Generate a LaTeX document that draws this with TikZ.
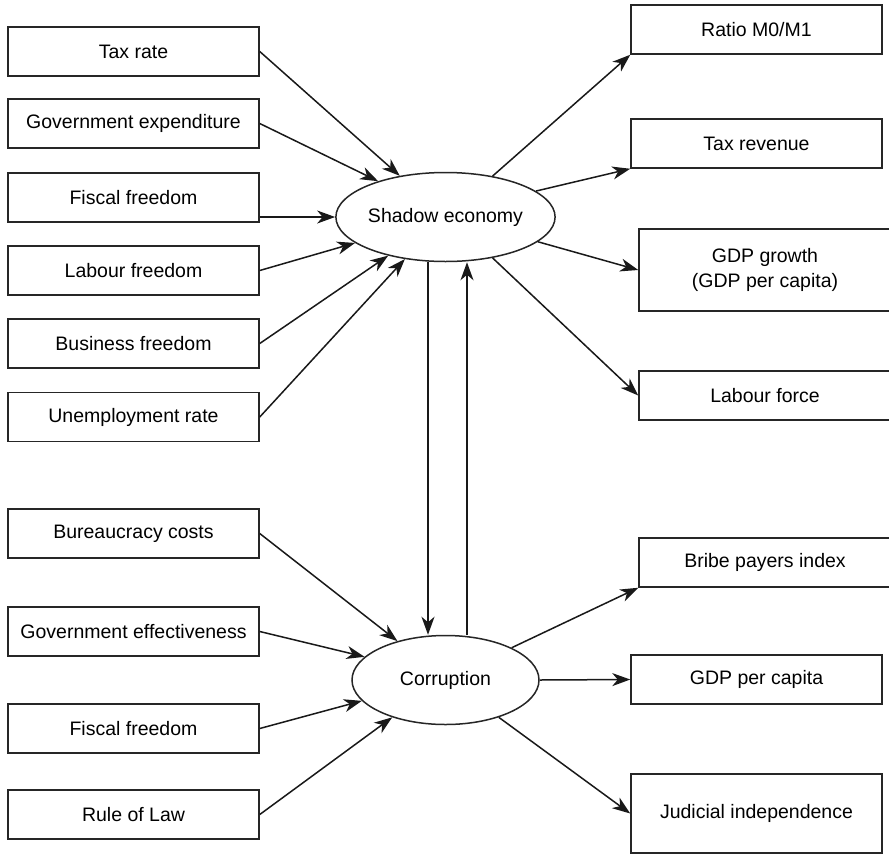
\documentclass[tikz,border=0pt]{standalone}
\usepackage{fontspec}
\setmainfont{Liberation Sans}
\usetikzlibrary{arrows.meta,shapes.geometric}
\begin{document}
\begin{tikzpicture}[x=1pt,y=-1pt,
  box/.style={draw=black!85,line width=1.5pt,rectangle,inner sep=0pt,align=center,
    font=\fontsize{19.5}{24.5}\selectfont},
  lbox/.style={box,minimum width=251pt,minimum height=49pt},
  rbox/.style={box,minimum width=251pt,minimum height=49pt},
  cbox/.style={box,minimum width=252pt,minimum height=49pt},
  oval/.style={draw=black!85,line width=1.5pt,ellipse,inner sep=0pt,
    minimum width=187pt,minimum height=89pt,font=\fontsize{19.5}{24.5}\selectfont},
  arr/.style={draw=black!90,line width=1.5pt,-{Stealth[length=18pt,width=13pt,inset=5.5pt]}}]
\useasboundingbox (0,0) rectangle (889,855);
\clip (0,0) rectangle (889,855);
\fill[white] (0,0) rectangle (889,855);
% ellipses
\node[oval] (se) at (445.5,217) {Shadow economy};
\node[oval] (co) at (445.5,680) {Corruption};
% left boxes
\node[lbox] (tr) at (133.5,51.5) {Tax rate};
\node[lbox] (ge) at (133.5,123.5) {Government expenditure};
\node[lbox] (ff) at (133.5,197.5) {Fiscal freedom};
\node[lbox] (lf) at (133.5,270.5) {Labour freedom};
\node[lbox] (bf) at (133.5,343.5) {Business freedom};
\node[lbox] (ur) at (133.5,417) {Unemployment rate};
\node[lbox] (bc) at (133.5,533.5) {Bureaucracy costs};
\node[lbox] (gf) at (133.5,631.5) {Government effectiveness};
\node[lbox] (fb) at (133.5,728.5) {Fiscal freedom};
\node[lbox] (rl) at (133.5,814.5) {Rule of Law};
% right boxes
\node[rbox] (rm) at (756.5,29.5) {Ratio M0/M1};
\node[rbox] (tv) at (756.5,143.5) {Tax revenue};
\node[cbox,minimum height=82pt] (gg) at (765,270) {GDP growth\\(GDP per capita)};
\node[cbox] (lo) at (765,395.5) {Labour force};
\node[cbox] (bp) at (765,562.5) {Bribe payers index};
\node[rbox] (gp) at (756.5,679.5) {GDP per capita};
\node[rbox,minimum height=79pt] (ji) at (756.5,813.5) {Judicial independence};
% inputs to shadow economy
\draw[arr] (tr.east) -- (se.138.4);
\draw[arr] (ge.east) -- (se.152.4);
\draw[arr] (ff.east |- se.west) -- (se.west);
\draw[arr] (lf.east) -- (se.196.8);
\draw[arr] (bf.east) -- (se.214.6);
\draw[arr] (ur.east) -- (se.226.4);
% outputs of shadow economy
\draw[arr] (se.41.6) -- (rm.south west);
\draw[arr] (se.16.1) -- (tv.south west);
\draw[arr] (se.-15.5) -- (gg.west);
\draw[arr] (se.-41.1) -- (lo.west);
% between the two
\draw[arr] ([xshift=-17.5pt]se.south) -- ([xshift=-17.5pt]co.north);
\draw[arr] ([xshift=21.5pt]co.north) -- ([xshift=21.5pt]se.south);
% inputs to corruption
\draw[arr] (bc.east) -- (co.141.6);
\draw[arr] (gf.east) -- (co.164.5);
\draw[arr] (fb.east) -- (co.194.5);
\draw[arr] (rl.east) -- (co.215.6);
% outputs of corruption
\draw[arr] (co.26.2) -- (bp.south west);
\draw[arr] (co.east) -- (gp.west);
\draw[arr] (co.-35.6) -- (ji.west);
\end{tikzpicture}
\end{document}
